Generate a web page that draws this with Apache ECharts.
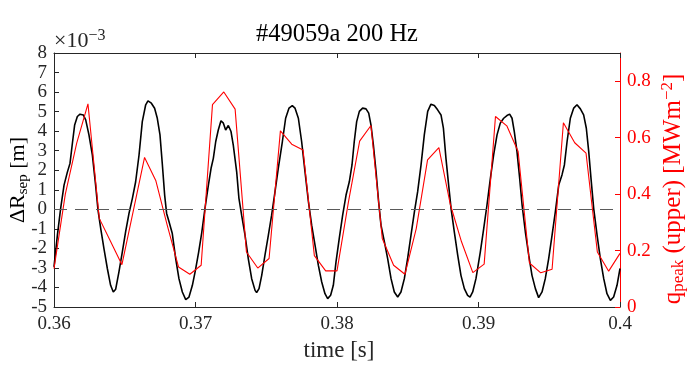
<!DOCTYPE html>
<html><head><meta charset="utf-8">
<script src="https://cdn.jsdelivr.net/npm/echarts@6/dist/echarts.min.js"></script>
<style>html,body{margin:0;padding:0;background:#fff}#c{width:696px;height:385px}</style>
</head><body><div id="c"></div>
<script>
// ---- data ----
const xTickValues = [0.36, 0.37, 0.38, 0.39, 0.4];
const leftTicks = [-5, -4, -3, -2, -1, 0, 1, 2, 3, 4, 5, 6, 7, 8];
const rightTicks = [0, 0.2, 0.4, 0.6, 0.8];

const timeBlack = [
0.36000,0.36024,0.36047,0.36071,0.36094,0.36113,0.36130,0.36146,0.36165,0.36184,0.36207,0.36224,0.36247,0.36271,0.36294,0.36311,0.36330,0.36353,0.36377,0.36400,0.36419,0.36436,0.36459,0.36483,0.36506,0.36530,0.36554,0.36577,0.36601,0.36624,0.36648,0.36664,0.36688,0.36711,0.36730,0.36749,0.36766,0.36782,0.36796,0.36813,0.36836,0.36860,0.36883,0.36907,0.36931,0.36954,0.36978,
0.37000,0.37022,0.37044,0.37067,0.37091,0.37110,0.37126,0.37143,0.37161,0.37180,0.37197,0.37213,0.37232,0.37251,0.37267,0.37291,0.37307,0.37326,0.37350,0.37373,0.37397,0.37421,0.37432,0.37449,0.37468,0.37491,0.37515,0.37538,0.37562,0.37585,0.37614,0.37637,0.37661,0.37684,0.37703,0.37727,0.37750,0.37774,0.37798,0.37821,0.37845,0.37868,0.37892,0.37915,0.37934,0.37955,0.37974,
0.37993,0.38016,0.38040,0.38064,0.38087,0.38106,0.38122,0.38139,0.38158,0.38181,0.38205,0.38224,0.38240,0.38257,0.38276,0.38294,0.38311,0.38335,0.38358,0.38382,0.38405,0.38429,0.38452,0.38476,0.38499,0.38523,0.38547,0.38570,0.38594,0.38617,0.38641,0.38664,0.38688,0.38711,0.38735,0.38752,0.38770,0.38789,0.38806,0.38829,0.38853,0.38876,0.38900,0.38923,0.38940,0.38959,0.38982,
0.39000,0.39013,0.39037,0.39060,0.39084,0.39107,0.39131,0.39154,0.39178,0.39201,0.39220,0.39237,0.39253,0.39272,0.39291,0.39308,0.39331,0.39355,0.39378,0.39402,0.39425,0.39449,0.39472,0.39496,0.39520,0.39543,0.39567,0.39590,0.39607,0.39626,0.39649,0.39673,0.39696,0.39720,0.39743,0.39762,0.39779,0.39795,0.39814,0.39838,0.39861,0.39885,0.39908,0.39932,0.39955,0.39979,0.40000
];
const dRsep = [
-2.95,-1.32,0.05,1.24,1.89,2.35,3.38,4.32,4.75,4.87,4.83,4.58,3.81,2.78,1.24,-0.04,-0.98,-2.01,-3.03,-3.89,-4.23,-4.09,-3.20,-2.18,-1.15,-0.21,0.56,1.41,2.78,4.49,5.35,5.55,5.43,5.17,4.66,3.81,2.27,0.73,-0.21,-0.64,-1.24,-2.52,-3.55,-4.23,-4.62,-4.49,-3.89,
-3.10,-2.20,-1.20,0.05,1.24,2.10,2.61,3.47,4.06,4.53,4.41,4.06,4.29,3.98,3.29,1.92,0.56,-0.30,-1.32,-2.52,-3.55,-4.15,-4.26,-4.06,-3.38,-2.35,-1.32,-0.30,0.90,2.10,3.47,4.66,5.18,5.31,5.18,4.66,3.47,1.92,0.39,-0.81,-1.84,-2.86,-3.72,-4.32,-4.57,-4.40,-3.89,
-2.69,-1.49,-0.30,0.73,1.41,2.27,3.47,4.49,5.01,5.18,5.14,4.92,4.32,3.30,1.92,0.39,-0.81,-1.67,-2.52,-3.55,-4.23,-4.49,-4.23,-3.55,-2.52,-1.32,-0.13,0.90,2.27,3.81,5.01,5.38,5.31,5.09,4.83,4.15,2.61,1.24,0.05,-1.15,-2.35,-3.38,-4.06,-4.40,-4.49,-4.23,-3.55,
-2.75,-2.18,-0.98,0.22,1.58,2.78,3.81,4.41,4.66,4.80,4.87,4.66,3.98,2.95,1.58,0.22,-1.15,-2.35,-3.38,-4.06,-4.52,-4.23,-3.55,-2.52,-1.32,-0.13,1.24,1.76,2.27,3.47,4.66,5.18,5.35,5.14,4.83,4.15,2.95,1.58,0.05,-1.32,-2.52,-3.55,-4.32,-4.66,-4.49,-3.89,-3.03
];

const timeRed = [
0.3600,0.3608,0.3616,0.3624,0.3632,0.3640,0.3648,0.3656,0.3664,0.3672,
0.3680,0.3688,0.3696,0.3704,0.3712,0.3720,0.3728,0.3736,0.3744,0.3752,
0.3760,0.3768,0.3776,0.3784,0.3792,0.3800,0.3808,0.3816,0.3824,0.3832,
0.3840,0.3848,0.3856,0.3864,0.3872,0.3880,0.3888,0.3896,0.3904,0.3912,
0.3920,0.3928,0.3936,0.3944,0.3952,0.3960,0.3968,0.3976,0.3984,0.3992,0.4000
];
const qPeak = [
0.136,0.40,0.58,0.72,0.314,0.232,0.150,0.34,0.530,0.447,
0.29,0.142,0.116,0.148,0.717,0.762,0.701,0.195,0.138,0.172,
0.624,0.577,0.556,0.182,0.128,0.128,0.37,0.588,0.643,0.243,
0.148,0.116,0.278,0.521,0.565,0.365,0.231,0.122,0.152,0.675,
0.642,0.551,0.156,0.121,0.134,0.653,0.582,0.545,0.195,0.127,0.19
];

// ---- chart ----
const FONT = '"Liberation Serif", "DejaVu Serif", serif';
const AX = '#262626';
const RED = '#ff0000';
const blackData = timeBlack.map((t, i) => [t, dRsep[i]]);
const redData = timeRed.map((t, i) => [t, qPeak[i]]);

const chart = echarts.init(document.getElementById('c'), null, {renderer: 'canvas'});
const option = {
  animation: false,
  backgroundColor: '#fff',
  grid: {left: 54, top: 53, width: 566, height: 254, containLabel: false},
  xAxis: [{
    type: 'value', min: xTickValues[0], max: xTickValues[xTickValues.length - 1], interval: 0.01, position: 'bottom',
    axisLine: {show: true, onZero: false, lineStyle: {color: AX, width: 1}},
    axisTick: {show: true, inside: true, length: 5, lineStyle: {color: AX}},
    axisLabel: {formatter: v => String(+v.toFixed(2)), fontFamily: FONT, fontSize: 19, color: AX, margin: 8},
    splitLine: {show: false}
  }, {
    type: 'value', min: xTickValues[0], max: xTickValues[xTickValues.length - 1], interval: 0.01, position: 'top',
    axisLine: {show: true, onZero: false, lineStyle: {color: AX, width: 1}},
    axisTick: {show: true, inside: true, length: 5, lineStyle: {color: AX}},
    axisLabel: {show: false}, splitLine: {show: false}
  }],
  yAxis: [{
    type: 'value', min: leftTicks[0], max: leftTicks[leftTicks.length - 1], interval: 1, position: 'left',
    axisLine: {show: true, onZero: false, lineStyle: {color: AX, width: 1}},
    axisTick: {show: true, inside: true, length: 5, lineStyle: {color: AX}},
    axisLabel: {fontFamily: FONT, fontSize: 19, color: AX, margin: 7},
    splitLine: {show: false}
  }, {
    type: 'value', min: rightTicks[0], max: 0.9, interval: 0.2, position: 'right',
    axisLine: {show: true, onZero: false, lineStyle: {color: RED, width: 1}},
    axisTick: {show: true, inside: true, length: 5, lineStyle: {color: RED}},
    axisLabel: {fontFamily: FONT, fontSize: 19, color: RED, margin: 7, showMaxLabel: false,
      formatter: v => (Math.abs(v * 5 - Math.round(v * 5)) < 1e-6 ? String(+v.toFixed(1)) : '')},
    splitLine: {show: false}
  }],
  series: [{
    type: 'line', xAxisIndex: 0, yAxisIndex: 0, data: blackData, showSymbol: false, symbol: 'none',
    lineStyle: {color: '#000', width: 1.6}, z: 2,
    markLine: {silent: true, symbol: 'none', label: {show: false},
      lineStyle: {color: '#5a5a5a', type: [13, 8], width: 1.2}, data: [{yAxis: 0}]}
  }, {
    type: 'line', xAxisIndex: 0, yAxisIndex: 1, data: redData, showSymbol: false, symbol: 'none',
    lineStyle: {color: RED, width: 1.1}, z: 3
  }],
  graphic: [
    {type: 'text', x: 337, y: 35, style: {text: '#49059a 200 Hz', font: '24.5px ' + FONT, fill: '#000', align: 'center', verticalAlign: 'middle'}},
    {type: 'text', x: 54, y: 41, style: {text: '{a|×10}{b|−3}', font: '22px ' + FONT, fill: AX, align: 'left', verticalAlign: 'middle',
      rich: {a: {fontFamily: FONT, fontSize: 22, lineHeight: 26, fill: AX},
             b: {fontFamily: FONT, fontSize: 16, lineHeight: 15, verticalAlign: 'top', fill: AX}}}},
    {type: 'text', x: 339, y: 351, style: {text: 'time [s]', font: '23px ' + FONT, fill: AX, align: 'center', verticalAlign: 'middle'}},
    {type: 'text', x: 18, y: 180, rotation: Math.PI / 2, style: {text: '{m|ΔR}{s|sep}{m| [m]}', font: '22px ' + FONT, fill: '#000', align: 'center', verticalAlign: 'middle',
      rich: {m: {fontFamily: FONT, fontSize: 22, lineHeight: 26, fill: '#000'},
             s: {fontFamily: FONT, fontSize: 15, lineHeight: 14, verticalAlign: 'bottom', fill: '#000'}}}},
    {type: 'text', x: 673, y: 189, rotation: Math.PI / 2, style: {text: '{m|q}{s|peak}{m| (upper) [MWm}{p|−2}{m|]}', font: '25px ' + FONT, fill: RED, align: 'center', verticalAlign: 'middle',
      rich: {m: {fontFamily: FONT, fontSize: 25, lineHeight: 28, fill: RED},
             s: {fontFamily: FONT, fontSize: 17, lineHeight: 15, verticalAlign: 'bottom', fill: RED},
             p: {fontFamily: FONT, fontSize: 17, lineHeight: 15, verticalAlign: 'top', fill: RED}}}}
  ]
};
chart.setOption(option);
</script>
</body></html>
